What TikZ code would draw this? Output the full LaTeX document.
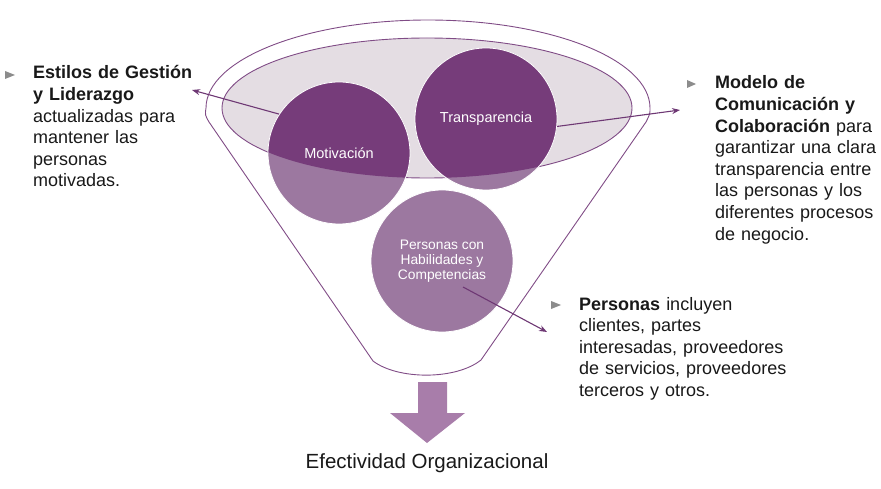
\documentclass[tikz,border=0pt]{standalone}
\usepackage{fontspec}
\setmainfont{Liberation Sans}
\usetikzlibrary{arrows.meta}
\definecolor{darkp}{RGB}{118,60,122}
\definecolor{lightp}{RGB}{156,120,160}
\definecolor{ellfill}{RGB}{228,221,227}
\definecolor{linep}{RGB}{128,76,134}
\definecolor{arrowp}{RGB}{110,56,116}
\definecolor{blockp}{RGB}{168,125,170}
\definecolor{bulletg}{RGB}{140,140,140}
\definecolor{txt}{RGB}{25,25,25}
\tikzset{
  bodytext/.style={anchor=base west, inner sep=0pt, align=left, text=txt, font={\fontsize{18}{21.6}\selectfont}},
  circtext/.style={text=white, align=center, inner sep=0pt},
  connector/.style={draw=arrowp, line width=1.1pt, -{Stealth[length=8pt,width=6pt]}},
  bulletmark/.style={fill=bulletg, draw=none},
  funnelline/.style={draw=linep, line width=0.9pt}
}
\begin{document}
\begin{tikzpicture}[x=1pt,y=1pt]
\useasboundingbox (0,0) rectangle (881,-489);
% outer funnel
\path[funnelline] (206,-108) arc[start angle=180,end angle=0,x radius=222pt,y radius=88pt]
  .. controls (650,-114) .. (646,-122) -- (481,-360)
  .. controls (456,-380) and (398,-380) .. (373,-361)
  -- (209,-122) .. controls (205,-115) .. (206,-108) -- cycle;
% inner ellipse
\path[funnelline, fill=ellfill] (427,-108) ellipse [x radius=205pt, y radius=70pt];
% circles light
\node[circle, fill=lightp, minimum size=142pt, inner sep=0pt] (mot0) at (339,-153) {};
\node[circle, fill=lightp, minimum size=142pt, inner sep=0pt] (tra0) at (486,-119) {};
\node[circle, fill=lightp, draw=white, line width=0.8pt, minimum size=142pt, inner sep=0pt] (per) at (442,-261) {};
% dark parts
\begin{scope}
\clip (427,-108) ellipse [x radius=205pt, y radius=70pt];
\fill[darkp] (339,-153) circle[radius=71pt];
\fill[darkp] (486,-119) circle[radius=71pt];
\end{scope}
\node[circle, draw=white, line width=0.8pt, minimum size=142pt, inner sep=0pt] (mot) at (339,-153) {};
\node[circle, draw=white, line width=0.8pt, minimum size=142pt, inner sep=0pt] (tra) at (486,-119) {};
% circle labels
\node[circtext, font={\fontsize{14.5}{16}\selectfont}] (motl) at (339,-153) {Motivación};
\node[circtext, font={\fontsize{14.5}{16}\selectfont}] (tral) at (486,-119) {Transparencia};
\node[circtext, font={\fontsize{13.8}{15}\selectfont}] (perl) at (442,-261) {Personas con\\Habilidades y\\Competencias};
% down block arrow
\fill[blockp] (418,-382) -- (447,-382) -- (447,-413) -- (465,-413) -- (427,-443) -- (390,-413) -- (418,-413) -- cycle;
\node[anchor=base, inner sep=0pt, text=txt, font={\fontsize{20.5}{24}\selectfont}] (eff) at (427,-468) {Efectividad Organizacional};
% bullets
\fill[bulletmark] (5,-71) -- (15,-75) -- (5,-79) -- cycle;
\fill[bulletmark] (687,-80) -- (696,-84) -- (687,-88) -- cycle;
\fill[bulletmark] (551,-301) -- (561,-305) -- (551,-309) -- cycle;
% texts
\node[bodytext, text width=200pt] (lt) at (33,-79) {\textbf{Estilos de Gestión}\\\textbf{y Liderazgo}\\actualizadas para\\mantener las\\personas\\motivadas.};
\node[bodytext, text width=170pt] (rt) at (715,-89) {\textbf{Modelo de}\\\textbf{Comunicación y}\\\textbf{Colaboración} para\\garantizar una clara\\transparencia entre\\las personas y los\\diferentes procesos\\de negocio.};
\node[bodytext, text width=240pt] (bt) at (579,-310) {\textbf{Personas} incluyen\\clientes, partes\\interesadas, proveedores\\de servicios, proveedores\\terceros y otros.};
% connector ends
\coordinate (ltend) at (192,-90);
\coordinate (rtend) at (680,-110);
\coordinate (btstart) at (463,-287);
\coordinate (btend) at (547,-332);
\draw[connector] (mot.147) -- (ltend);
\draw[connector] (tra.-6) -- (rtend);
\draw[connector] (btstart) -- (btend);
\end{tikzpicture}
\end{document}
